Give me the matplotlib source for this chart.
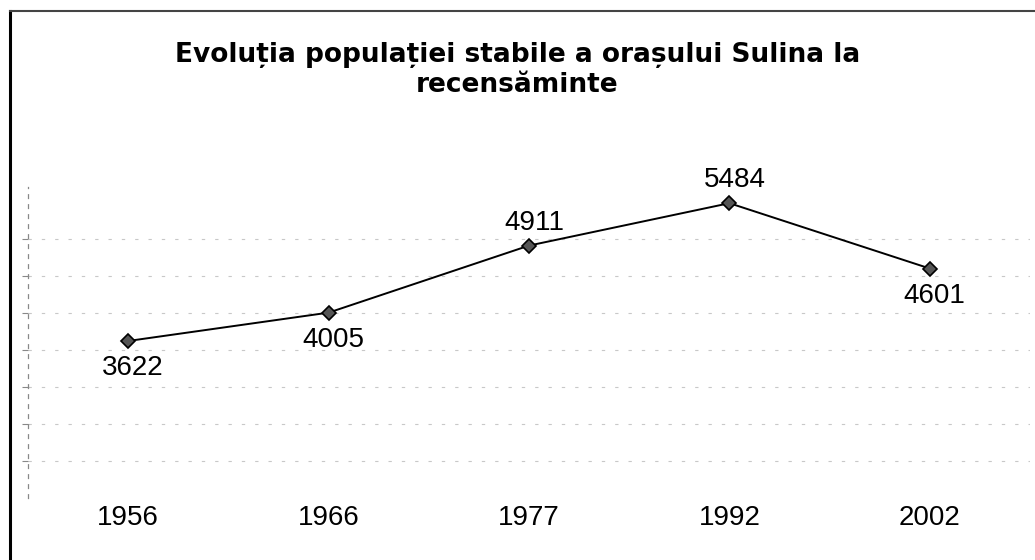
import matplotlib
matplotlib.use("Agg")
import matplotlib.pyplot as plt
from matplotlib.lines import Line2D

# ---- data ----
years = ["1956", "1966", "1977", "1992", "2002"]
population = [3622, 4005, 4911, 5484, 4601]
label_side = ["below", "below", "above", "above", "below"]
grid_levels = [2000, 2500, 3000, 3500, 4000, 4500, 5000]
title_text = "Evoluția populației stabile a orașului Sulina la\nrecensăminte"

plt.rcParams['font.family'] = ['Liberation Sans', 'DejaVu Sans']

W, H = 1035, 560
fig = plt.figure(figsize=(W / 100, H / 100), dpi=100)
fig.patch.set_facecolor('white')

ax = fig.add_axes([28 / W, 62 / H, 1002 / W, 333 / H])
xs = list(range(len(years)))
ax.plot(xs, population, color='black', lw=1.4, marker='D', ms=7.5,
        mfc='#555555', mec='black', mew=1.2, zorder=3)

for xi, v, side in zip(xs, population, label_side):
    dy = 23 if side == "above" else -27
    ax.annotate(f"{v}", (xi, v), xytext=(5, dy), textcoords='offset pixels',
                ha='center', va='center', fontsize=20, color='black')

ax.set_xlim(-0.5, len(years) - 0.5)
ax.set_ylim(1500, 6000)
ax.set_xticks(xs)
ax.set_xticklabels(years, fontsize=20)
ax.tick_params(axis='x', length=0, pad=5)
ax.set_yticks(grid_levels)
ax.tick_params(axis='y', length=4, color='#888888', labelleft=False)
ax.yaxis.grid(True, linestyle=(0, (3, 9)), color='#c8c8c8', lw=0.8)
ax.set_axisbelow(True)
for s in ['top', 'right', 'bottom']:
    ax.spines[s].set_visible(False)
ax.spines['left'].set_linestyle((0, (3, 5)))
ax.spines['left'].set_color('#888888')
ax.spines['left'].set_linewidth(0.9)
ax.spines['left'].set_bounds(1500, 5700)

fig.text(0.5, 1 - 70 / H, title_text, ha='center', va='center',
         fontsize=19, fontweight='bold', family=['DejaVu Sans'],
         linespacing=1.25, color='black')

# chart-area frame (top and left edges visible in the scan)
fig.add_artist(Line2D([10 / W, 10 / W], [0, 1 - 11 / H], transform=fig.transFigure,
                      color='black', lw=2.2))
fig.add_artist(Line2D([10 / W, 1], [1 - 11 / H, 1 - 11 / H], transform=fig.transFigure,
                      color='#444444', lw=1.5))

fig.savefig("out.png", dpi=100)
